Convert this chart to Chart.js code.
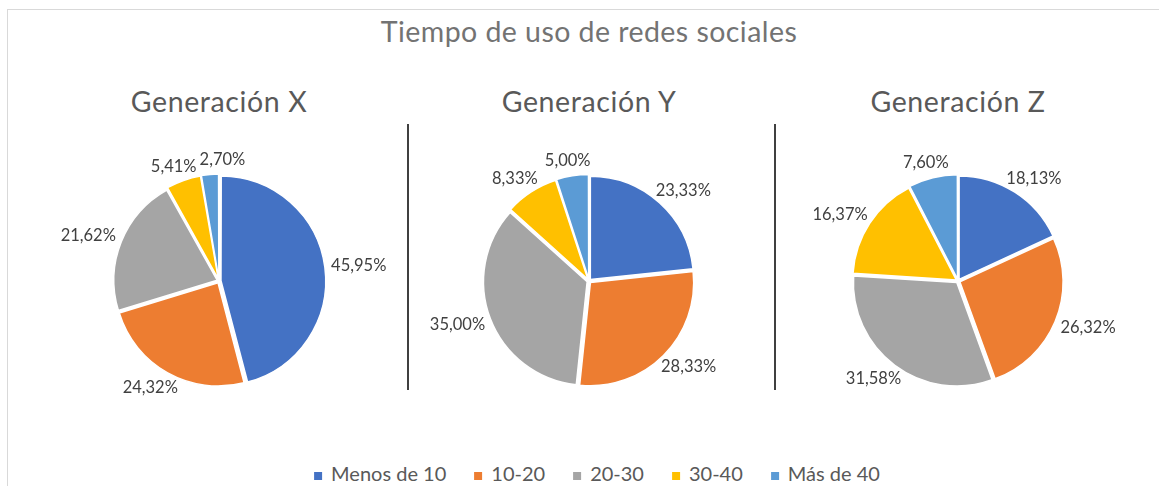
<!DOCTYPE html>
<html>
<head>
<meta charset="utf-8">
<script src="https://cdn.jsdelivr.net/npm/chart.js@4.4.1/dist/chart.umd.min.js"></script>
<style>
  html, body { margin:0; padding:0; }
  body { width:1159px; height:486px; background:#fff; position:relative; overflow:hidden; font-family:Lato, "Open Sans", sans-serif; }
  #frame { position:absolute; left:7px; top:9px; width:1300px; height:700px; border:1.5px solid #d9d9d9; box-sizing:border-box; }
  #title { position:absolute; left:339px; width:500px; top:17px; line-height:28px; text-align:center; font-size:28.5px; letter-spacing:0.45px; color:#737373; white-space:nowrap; }
  .sub { position:absolute; top:87px; width:360px; line-height:28px; text-align:center; font-size:28.5px; letter-spacing:0.6px; color:#595959; white-space:nowrap; }
  .sep { position:absolute; top:124px; height:266px; width:1.5px; background:#404040; }
  .pie { position:absolute; top:111px; width:360px; height:340px; }
  #legend { position:absolute; top:463px; left:597px; transform:translateX(-50%); display:flex; white-space:nowrap; font-size:20px; line-height:20px; color:#595959; }
  #legend .item { display:flex; align-items:flex-end; margin-right:28px; }
  #legend .item:last-child { margin-right:0; }
  #legend .box { width:8px; height:8px; margin-right:9px; margin-bottom:3px; }
</style>
</head>
<body>
<div id="frame"></div>
<div id="title"></div>
<div id="subs"></div>
<div class="sep" style="left:407px"></div>
<div class="sep" style="left:774px"></div>
<canvas id="c0" class="pie" width="360" height="340"></canvas>
<canvas id="c1" class="pie" width="360" height="340"></canvas>
<canvas id="c2" class="pie" width="360" height="340"></canvas>
<div id="legend"></div>
<script>
// ---- data ----
const mainTitle = 'Tiempo de uso de redes sociales';
const categories = ['Menos de 10', '10-20', '20-30', '30-40', 'Más de 40'];
const generations = ['Generación X', 'Generación Y', 'Generación Z'];
const genX = [45.95, 24.32, 21.62, 5.41, 2.70];
const genY = [23.33, 28.33, 35.00, 8.33, 5.00];
const genZ = [18.13, 26.32, 31.58, 16.37, 7.60];

// ---- styles ----
const colors = ['#4472C4', '#ED7D31', '#A5A5A5', '#FFC000', '#5B9BD5'];
const pieCentersX = [219, 589, 958];

document.getElementById('title').textContent = mainTitle;

const subs = document.getElementById('subs');
generations.forEach((g, i) => {
  const d = document.createElement('div');
  d.className = 'sub';
  d.style.left = (pieCentersX[i] - 180) + 'px';
  d.textContent = g;
  subs.appendChild(d);
});

const legend = document.getElementById('legend');
categories.forEach((c, i) => {
  const it = document.createElement('div');
  it.className = 'item';
  const b = document.createElement('span');
  b.className = 'box';
  b.style.background = colors[i];
  const t = document.createElement('span');
  t.textContent = c;
  it.appendChild(b); it.appendChild(t);
  legend.appendChild(it);
});

const fmt = v => v.toFixed(2).replace('.', ',') + '%';

const outLabels = {
  id: 'outLabels',
  afterDatasetsDraw(chart) {
    const ctx = chart.ctx;
    const meta = chart.getDatasetMeta(0);
    const data = chart.data.datasets[0].data;
    ctx.save();
    ctx.font = '16.5px Lato, sans-serif';
    ctx.fillStyle = '#404040';
    ctx.textAlign = 'center';
    ctx.textBaseline = 'middle';
    const h = 17;
    const placed = [];
    const place = (p, a, w) => {
      const d = p.outerRadius + 10;
      return { x: p.x + Math.cos(a) * (d + w / 2), y: p.y + Math.sin(a) * (d + h / 2), w, h };
    };
    const hit = (b1, b2) => Math.abs(b1.x - b2.x) < (b1.w + b2.w) / 2 + 3 && Math.abs(b1.y - b2.y) < (b1.h + b2.h) / 2 + 1;
    meta.data.forEach((arc, i) => {
      const p = arc.getProps(['x', 'y', 'startAngle', 'endAngle', 'outerRadius'], true);
      let a = (p.startAngle + p.endAngle) / 2;
      const txt = fmt(data[i]);
      const w = ctx.measureText(txt).width;
      let b = place(p, a, w);
      let guard = 0;
      while (placed.some(q => hit(q, b)) && guard < 200) {
        a += 0.01;
        b = place(p, a, w);
        guard++;
      }
      placed.push(b);
      ctx.fillText(txt, b.x, b.y);
    });
    ctx.restore();
  }
};

[genX, genY, genZ].forEach((vals, i) => {
  const cv = document.getElementById('c' + i);
  cv.style.left = (pieCentersX[i] - 180) + 'px';
  new Chart(cv, {
    type: 'pie',
    data: {
      labels: categories,
      datasets: [{
        data: vals,
        backgroundColor: colors,
        borderColor: '#ffffff',
        borderWidth: 1.5,
        offset: 8
      }]
    },
    options: {
      responsive: false,
      animation: false,
      layout: { padding: { left: 72, right: 72, top: 62, bottom: 62 } },
      plugins: { legend: { display: false }, tooltip: { enabled: false }, title: { display: false } }
    },
    plugins: [outLabels]
  });
});
</script>
</body>
</html>
